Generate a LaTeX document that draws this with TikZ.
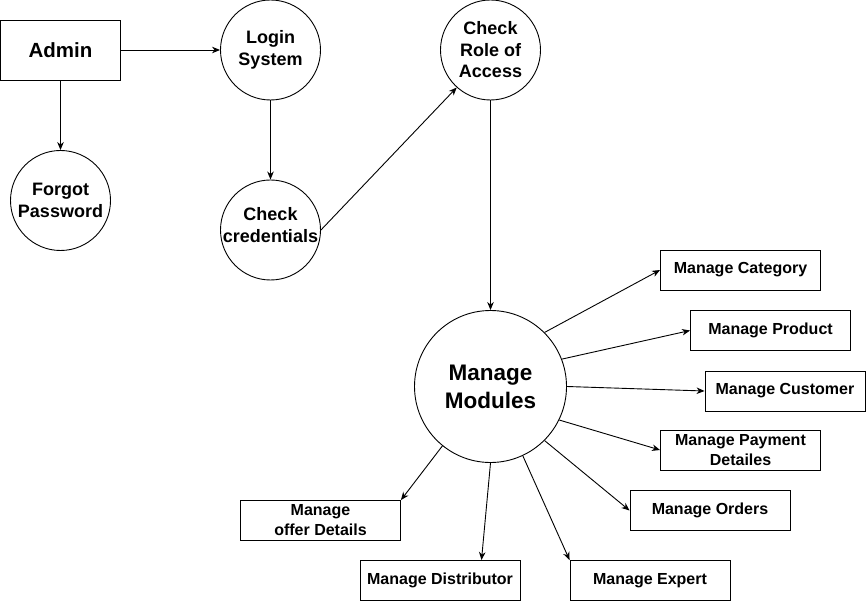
\documentclass[tikz,border=0pt]{standalone}
\usepackage{fontspec}
\setmainfont{Liberation Sans}
\usetikzlibrary{arrows.meta}
\tikzset{
    CC1/.style ={circle,minimum size = 100pt, inner sep=-6pt, draw, align=center, font=\fontsize{18}{21.5}\selectfont\bfseries},
    CC2/.style ={circle,minimum size = 152pt, inner sep=0pt, draw, align=center, font=\fontsize{22.5}{28}\selectfont\bfseries},
    RA1/.style ={rectangle,minimum width = 120pt, minimum height =60pt, draw, font=\fontsize{20.5}{24}\selectfont\bfseries},
    RA2/.style ={rectangle,minimum width = 160pt, minimum height =40pt, inner sep=0pt, draw, align=center, font=\fontsize{16}{20}\selectfont\bfseries},
    AR/.style ={-{Stealth[length=8pt,width=6.5pt,inset=2.5pt]}}}

\begin{document}
\begin{tikzpicture}[x=1pt,y=-1pt,line width=0.9pt]
        \useasboundingbox (0,0) rectangle (866,601);
        \node[RA1] (1) at(60.5,50){Admin};
        \node[CC1] (2) at(270.5,50){Login\\System};
        \node[CC1] (3) at(60.5,200.5){Forgot\\Password};
        \node[CC1,text depth=10pt] (4) at(270.5,230){Check\\credentials};
        \node[CC1] (5) at(490.5,50){Check\\Role of\\Access};
        \node[CC2] (6) at(490.5,386.5){Manage\\Modules};
        \node[RA2] (7) at(740.5,270){Manage Category};
        \node[RA2] (8) at(770.5,330.5){Manage Product};
        \node[RA2] (9) at(785,391){Manage Customer};
        \node[RA2] (10) at(740.5,450){Manage Payment\\Detailes};
        \node[RA2] (11) at(710,510.5){Manage Orders};
        \node[RA2] (12) at(650,580.5){Manage Expert};
        \node[RA2] (13) at(440,580.5){Manage Distributor};
        \node[RA2] (14) at(320.5,520.5){Manage\\offer Details};
        \draw[AR] (1) --(2);
        \draw[AR] (1) --(3);
        \draw[AR] (2) --(4);
        \draw[AR] (4.east) --(5.228);
        \draw[AR] (5) --(6);
        \draw[AR] (6.45) --(7.west);
        \draw[AR] (6.21) --(8.west);
        \draw[AR] (6.east) --(9.west);
        \draw[AR] (6.334) --(10.west);
        \draw[AR] (6.315) --(11.west);
        \draw[AR] (6.295) --(12.north west);
        \draw[AR] (6.south) --([xshift=41.5pt]13.north);
        \draw[AR] (6.231) --(14.north east);
    \end{tikzpicture}
\end{document}
